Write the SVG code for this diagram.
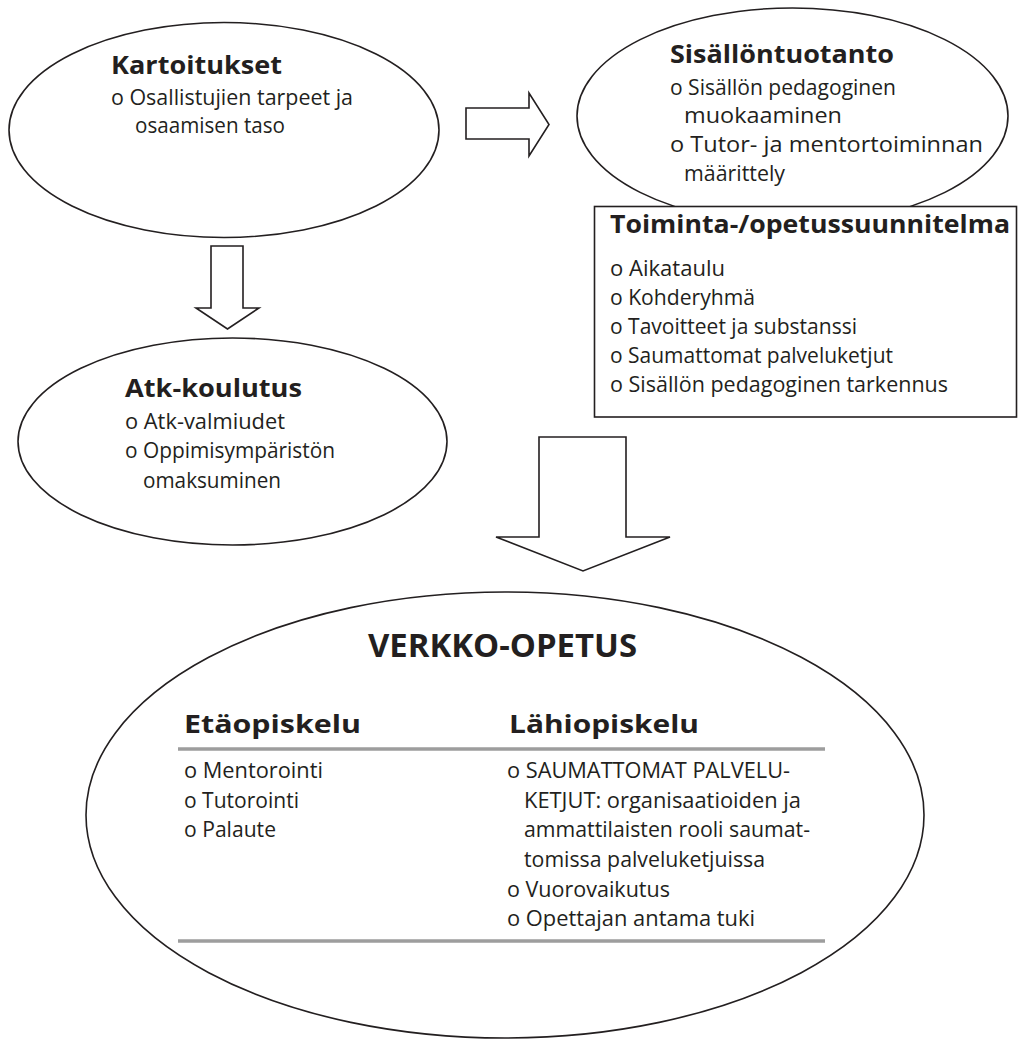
<svg xmlns="http://www.w3.org/2000/svg" width="1018" height="1039" viewBox="0 0 1018 1039">
<style>
.shape{fill:#fff;stroke:#231f20;stroke-width:1.6}
.t{font-family:"Open Sans","Noto Sans","DejaVu Sans",sans-serif;fill:#231f20}
.h{font-size:25px;font-weight:700}
.hb{font-size:32px;font-weight:700}
.b{font-size:21px}
.rule{stroke:#9d9d9d;stroke-width:3.5}
</style>
<rect width="1018" height="1039" fill="#fff"/>
<g id="kartoitukset">
<ellipse class="shape" cx="224" cy="130" rx="215" ry="107.5"/>
<text class="t h" x="111" y="74" textLength="171" lengthAdjust="spacingAndGlyphs">Kartoitukset</text>
<text class="t b" x="111" y="105" textLength="242" lengthAdjust="spacingAndGlyphs">o Osallistujien tarpeet ja</text>
<text class="t b" x="135" y="133" textLength="150" lengthAdjust="spacingAndGlyphs">osaamisen taso</text>
</g>
<g id="sisallontuotanto">
<ellipse class="shape" cx="792.5" cy="116" rx="215.5" ry="108"/>
<text class="t h" x="670" y="63" textLength="224" lengthAdjust="spacingAndGlyphs">Sisällöntuotanto</text>
<text class="t b" x="670" y="95" textLength="226" lengthAdjust="spacingAndGlyphs">o Sisällön pedagoginen</text>
<text class="t b" x="684" y="123" textLength="158" lengthAdjust="spacingAndGlyphs">muokaaminen</text>
<text class="t b" x="670" y="152" textLength="313" lengthAdjust="spacingAndGlyphs">o Tutor- ja mentortoiminnan</text>
<text class="t b" x="684" y="181" textLength="101" lengthAdjust="spacingAndGlyphs">määrittely</text>
</g>
<g id="toimintasuunnitelma">
<rect class="shape" x="594.5" y="206.5" width="422" height="210.5"/>
<text class="t h" x="610" y="233" textLength="400" lengthAdjust="spacingAndGlyphs">Toiminta-/opetussuunnitelma</text>
<text class="t b" x="610" y="276" textLength="115" lengthAdjust="spacingAndGlyphs">o Aikataulu</text>
<text class="t b" x="610" y="305" textLength="145" lengthAdjust="spacingAndGlyphs">o Kohderyhmä</text>
<text class="t b" x="610" y="334" textLength="247" lengthAdjust="spacingAndGlyphs">o Tavoitteet ja substanssi</text>
<text class="t b" x="610" y="363" textLength="283" lengthAdjust="spacingAndGlyphs">o Saumattomat palveluketjut</text>
<text class="t b" x="610" y="392" textLength="338" lengthAdjust="spacingAndGlyphs">o Sisällön pedagoginen tarkennus</text>
</g>
<g id="atk-koulutus">
<ellipse class="shape" cx="232.5" cy="441.5" rx="214.5" ry="103.5"/>
<text class="t h" x="125" y="397" textLength="177" lengthAdjust="spacingAndGlyphs">Atk-koulutus</text>
<text class="t b" x="125" y="429" textLength="160" lengthAdjust="spacingAndGlyphs">o Atk-valmiudet</text>
<text class="t b" x="125" y="458" textLength="210" lengthAdjust="spacingAndGlyphs">o Oppimisympäristön</text>
<text class="t b" x="143" y="488" textLength="138" lengthAdjust="spacingAndGlyphs">omaksuminen</text>
</g>
<g id="verkko-opetus">
<ellipse class="shape" cx="505" cy="815" rx="419" ry="223"/>
<text class="t hb" x="368" y="657" textLength="269" lengthAdjust="spacingAndGlyphs">VERKKO-OPETUS</text>
<text class="t h" x="184" y="733" textLength="177" lengthAdjust="spacingAndGlyphs">Etäopiskelu</text>
<text class="t h" x="509" y="733" textLength="190" lengthAdjust="spacingAndGlyphs">Lähiopiskelu</text>
<line class="rule" x1="178" y1="749" x2="825" y2="749"/>
<line class="rule" x1="178" y1="941" x2="825" y2="941"/>
<text class="t b" x="184" y="778" textLength="139" lengthAdjust="spacingAndGlyphs">o Mentorointi</text>
<text class="t b" x="184" y="808" textLength="115" lengthAdjust="spacingAndGlyphs">o Tutorointi</text>
<text class="t b" x="184" y="837" textLength="92" lengthAdjust="spacingAndGlyphs">o Palaute</text>
<text class="t b" x="507" y="778" textLength="283" lengthAdjust="spacingAndGlyphs">o SAUMATTOMAT PALVELU-</text>
<text class="t b" x="524" y="808" textLength="277" lengthAdjust="spacingAndGlyphs">KETJUT: organisaatioiden ja</text>
<text class="t b" x="524" y="837" textLength="286" lengthAdjust="spacingAndGlyphs">ammattilaisten rooli saumat-</text>
<text class="t b" x="524" y="867" textLength="241" lengthAdjust="spacingAndGlyphs">tomissa palveluketjuissa</text>
<text class="t b" x="507" y="897" textLength="163" lengthAdjust="spacingAndGlyphs">o Vuorovaikutus</text>
<text class="t b" x="507" y="926" textLength="248" lengthAdjust="spacingAndGlyphs">o Opettajan antama tuki</text>
</g>
<g id="connectors">
<polygon class="shape" points="466,108 529,108 529,93 549,124.5 529,156 529,139 466,139"/>
<polygon class="shape" points="211,246 243,246 243,308 259,308 227.5,329 196,308 211,308"/>
<polygon class="shape" points="539,437 626,437 626,537 670,537 583,571 496,537 539,537"/>
</g>
</svg>
